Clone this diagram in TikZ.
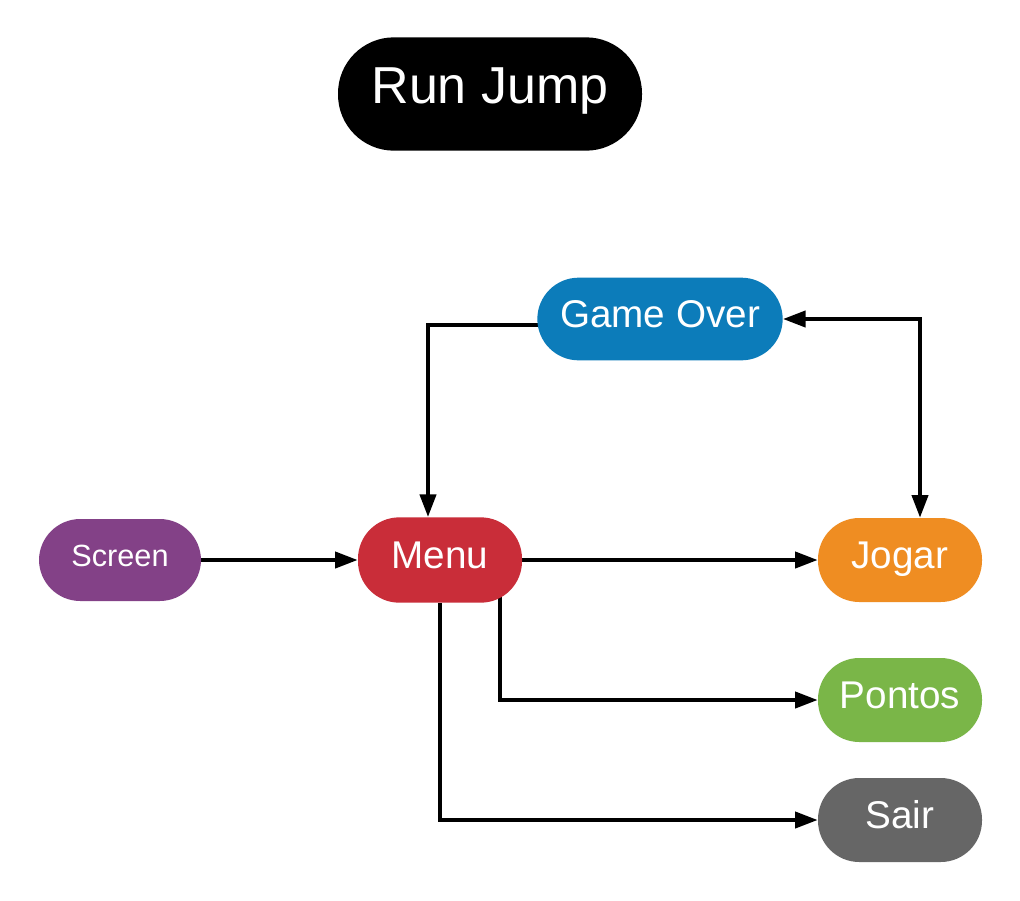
\documentclass[tikz,border=0pt]{standalone}
\usepackage{fontspec}
\setmainfont{Liberation Sans}
\usetikzlibrary{arrows.meta,calc,backgrounds}
\definecolor{cblack}{HTML}{000000}
\definecolor{cblue}{HTML}{0C7CBA}
\definecolor{cpurple}{HTML}{834187}
\definecolor{cred}{HTML}{C92D39}
\definecolor{corange}{HTML}{EF8D22}
\definecolor{cgreen}{HTML}{7AB648}
\definecolor{cgray}{HTML}{666666}
\tikzset{
  pill/.style={rectangle, rounded corners=31pt, inner sep=0pt, text=white,
    minimum width=123pt, minimum height=63pt, font=\fontsize{29pt}{32pt}\selectfont,
    text height=21pt, text depth=9pt},
  conn/.style={line width=3pt, -{Triangle[length=17pt,width=12pt]}},
  bconn/.style={line width=3pt, {Triangle[length=17pt,width=12pt]}-{Triangle[length=17pt,width=12pt]}}
}
\begin{document}
\begin{tikzpicture}[x=0.75pt,y=-0.75pt]
\useasboundingbox (0,0) rectangle (1020,900);
\node[pill, fill=cblack, minimum width=228pt, minimum height=85pt, rounded corners=42pt,
  font=\fontsize{39pt}{44pt}\selectfont, text height=28pt, text depth=14pt] (title) at (490,94) {Run Jump};
\node[pill, fill=cblue, minimum width=184pt, minimum height=62pt] (go) at (660,319) {Game Over};
\node[pill, fill=cpurple, minimum width=121.5pt, minimum height=61.5pt,
  font=\fontsize{23pt}{26pt}\selectfont, text height=17pt, text depth=7pt] (screen) at (120,560) {Screen};
\node[pill, fill=cred, minimum height=64pt] (menu) at (440,560) {Menu};
\node[pill, fill=corange] (jogar) at (900,560) {Jogar};
\node[pill, fill=cgreen] (pontos) at (900,700) {Pontos};
\node[pill, fill=cgray] (sair) at (900,820) {Sair};
\begin{pgfonlayer}{background}
\fill[white] (0,0) rectangle (1020,900);
\draw[conn] (screen.east) -- (menu.west);
\draw[conn] (menu.east) -- (jogar.west);
\draw[conn] ($(go.west)+(2,6)$) -| ($(menu.north)+(-12,0)$);
\draw[bconn] (go.east) -| ($(jogar.north)+(20,0)$);
\draw[conn] ($(menu.south)+(60,-6)$) |- (pontos.west);
\draw[conn] (menu.south) |- (sair.west);
\end{pgfonlayer}
\end{tikzpicture}
\end{document}
